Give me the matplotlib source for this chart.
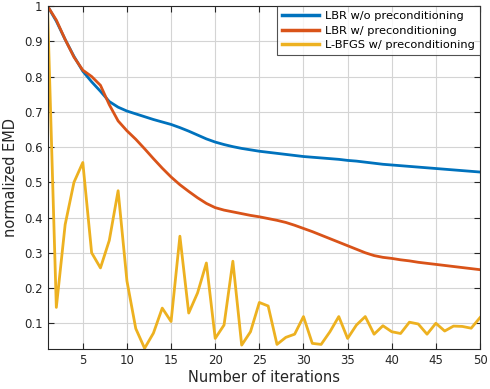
import matplotlib.pyplot as plt

iters = list(range(1, 51))

lbr_no_prec = [1.0, 0.957, 0.905, 0.857, 0.815, 0.785, 0.758, 0.729, 0.713, 0.702,
               0.694, 0.686, 0.678, 0.671, 0.664, 0.655, 0.645, 0.634, 0.623, 0.614,
               0.607, 0.601, 0.596, 0.592, 0.588, 0.585, 0.582, 0.579, 0.576, 0.573,
               0.571, 0.569, 0.567, 0.565, 0.562, 0.560, 0.557, 0.554, 0.551, 0.549,
               0.547, 0.545, 0.543, 0.541, 0.539, 0.537, 0.535, 0.533, 0.531, 0.529]

lbr_prec = [1.0, 0.960, 0.905, 0.855, 0.818, 0.800, 0.775, 0.720, 0.674, 0.646,
            0.622, 0.595, 0.567, 0.540, 0.515, 0.493, 0.474, 0.456, 0.440, 0.428,
            0.421, 0.416, 0.411, 0.406, 0.402, 0.397, 0.392, 0.386, 0.378, 0.369,
            0.360, 0.350, 0.340, 0.330, 0.320, 0.310, 0.300, 0.292, 0.287, 0.284,
            0.280, 0.277, 0.273, 0.270, 0.267, 0.264, 0.261, 0.258, 0.255, 0.252]

lbfgs_prec = [1.0, 0.145, 0.38, 0.50, 0.556, 0.30, 0.257, 0.335, 0.476, 0.22,
              0.085, 0.029, 0.072, 0.143, 0.105, 0.347, 0.129, 0.186, 0.271, 0.057,
              0.095, 0.276, 0.038, 0.076, 0.159, 0.149, 0.040, 0.060, 0.069, 0.119,
              0.043, 0.040, 0.076, 0.119, 0.057, 0.095, 0.119, 0.069, 0.093, 0.076,
              0.071, 0.103, 0.098, 0.069, 0.100, 0.078, 0.092, 0.091, 0.086, 0.116]

labels = ['LBR w/o preconditioning', 'LBR w/ preconditioning', 'L-BFGS w/ preconditioning']
colors = ['#0072BD', '#D95319', '#EDB120']

plt.rcParams['font.family'] = 'DejaVu Sans'
fig = plt.figure(figsize=(4.9, 3.89), dpi=100)
ax = fig.add_axes([47.5 / 490, 40 / 389, 432.5 / 490, 343 / 389])

for ys, lab, c in zip([lbr_no_prec, lbr_prec, lbfgs_prec], labels, colors):
    ax.plot(iters, ys, color=c, linewidth=2, label=lab)

ax.set_xlim(1, 50)
ax.set_ylim(0.027, 1.0)
ax.set_xticks(range(5, 51, 5))
ax.set_yticks([0.1, 0.2, 0.3, 0.4, 0.5, 0.6, 0.7, 0.8, 0.9, 1])
ax.set_yticklabels(['0.1', '0.2', '0.3', '0.4', '0.5', '0.6', '0.7', '0.8', '0.9', '1'])
ax.grid(True, color='#d4d4d4', linewidth=0.8)
ax.set_axisbelow(True)
ax.tick_params(direction='in', top=True, right=True, labelsize=8.5,
               colors='#262626', length=4, width=0.8)
for s in ax.spines.values():
    s.set_color('#262626')
    s.set_linewidth(0.8)

ax.set_xlabel('Number of iterations', fontsize=10.5, color='#262626', labelpad=2)
ax.set_ylabel('normalized EMD', fontsize=10.5, color='#262626', labelpad=4)

leg = ax.legend(loc='upper right', fontsize=8.2, frameon=True, fancybox=False,
                borderaxespad=0, handlelength=3.3, handletextpad=0.5,
                labelspacing=0.4, borderpad=0.45)
leg.get_frame().set_edgecolor('#262626')
leg.get_frame().set_linewidth(0.8)
for line in leg.get_lines():
    line.set_linewidth(2.5)

fig.savefig('out.png', dpi=100)
